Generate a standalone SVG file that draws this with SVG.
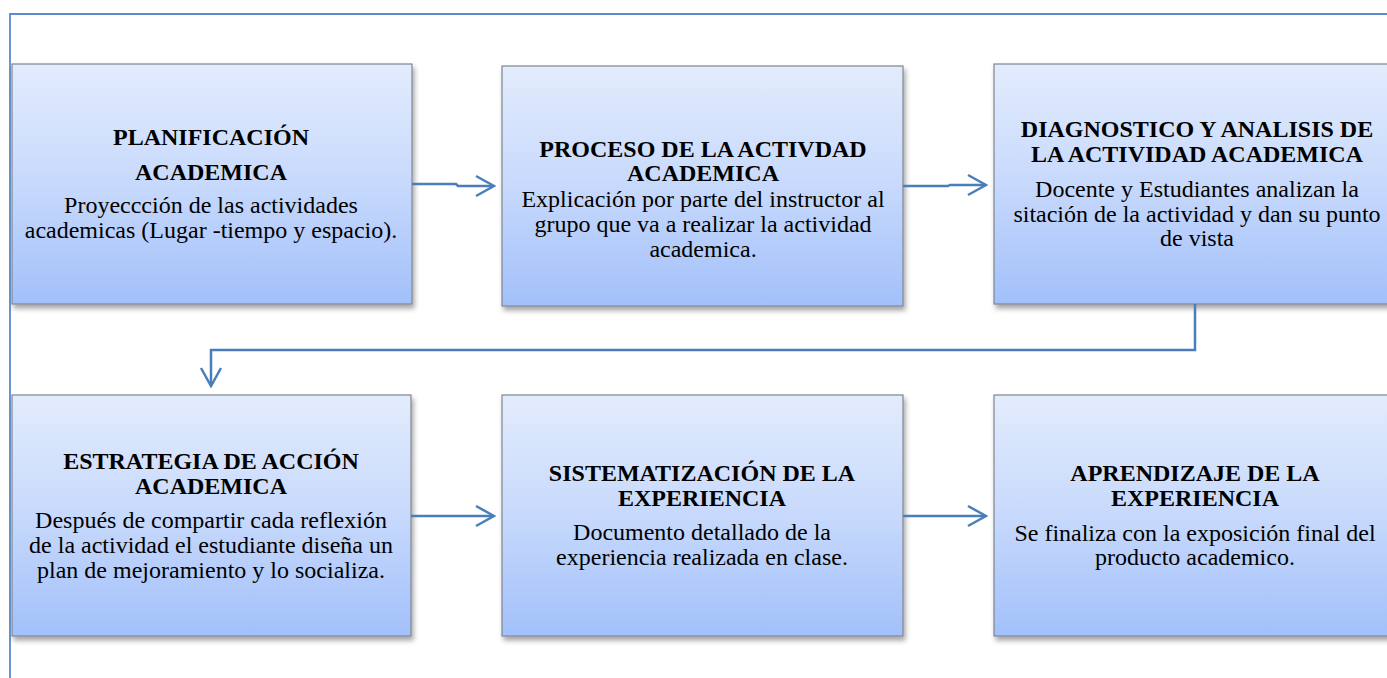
<svg xmlns="http://www.w3.org/2000/svg" width="1387" height="678" viewBox="0 0 1387 678">
<defs>
<linearGradient id="g" x1="0" y1="0" x2="0" y2="1">
<stop offset="0" stop-color="#e3ecfd"/>
<stop offset="0.5" stop-color="#c7d9fc"/>
<stop offset="1" stop-color="#a2c0fa"/>
</linearGradient>
<filter id="sh" x="-5%" y="-5%" width="115%" height="120%">
<feDropShadow dx="2" dy="4" stdDeviation="2.5" flood-color="#000" flood-opacity="0.35"/>
</filter>
<marker id="ar" markerUnits="userSpaceOnUse" viewBox="-20 -12 22 24" refX="0" refY="0" markerWidth="22" markerHeight="24" orient="auto">
<path d="M-18,-10 L0,0 L-18,10" fill="none" stroke="#4a7ebb" stroke-width="2.5"/>
</marker>
</defs>
<style>
.box{fill:url(#g);stroke:#7f8591;stroke-width:1.2;filter:url(#sh)}
.t{font-family:"Liberation Serif","Times New Roman",serif;font-size:24px;font-weight:bold;fill:#000;text-anchor:middle}
.b{font-family:"Liberation Serif","Times New Roman",serif;font-size:24px;fill:#000;text-anchor:middle}
.c{fill:none;stroke:#4a7ebb;stroke-width:2.5;marker-end:url(#ar)}
.frame{fill:none;stroke:#5a8ccd;stroke-width:1.8}
</style>
<rect width="1387" height="678" fill="#fff"/>
<path class="frame" d="M10,678 V14 H1387"/>
<g id="n1">
<rect class="box" x="12" y="64" width="400" height="240"/>
<text class="t" x="211" y="145">PLANIFICACIÓN</text>
<text class="t" x="211" y="180">ACADEMICA</text>
<text class="b" x="211" y="213">Proyeccción de las actividades</text>
<text class="b" x="211" y="238">academicas (Lugar -tiempo y espacio).</text>
</g>
<g id="n2">
<rect class="box" x="502" y="66" width="401" height="240"/>
<text class="t" x="703" y="157">PROCESO DE LA ACTIVDAD</text>
<text class="t" x="703" y="181">ACADEMICA</text>
<text class="b" x="703" y="207">Explicación por parte del instructor al</text>
<text class="b" x="703" y="232">grupo que va a realizar la actividad</text>
<text class="b" x="703" y="257">academica.</text>
</g>
<g id="n3">
<rect class="box" x="994" y="64" width="402" height="240"/>
<text class="t" x="1197" y="137">DIAGNOSTICO Y ANALISIS DE</text>
<text class="t" x="1197" y="162">LA ACTIVIDAD ACADEMICA</text>
<text class="b" x="1197" y="197">Docente y Estudiantes analizan la</text>
<text class="b" x="1197" y="222">sitación de la actividad y dan su punto</text>
<text class="b" x="1197" y="246">de vista</text>
</g>
<g id="n4">
<rect class="box" x="12" y="395" width="399" height="241"/>
<text class="t" x="211" y="469">ESTRATEGIA DE ACCIÓN</text>
<text class="t" x="211" y="494">ACADEMICA</text>
<text class="b" x="211" y="528">Después de compartir cada reflexión</text>
<text class="b" x="211" y="553">de la actividad el estudiante diseña un</text>
<text class="b" x="211" y="578">plan de mejoramiento y lo socializa.</text>
</g>
<g id="n5">
<rect class="box" x="502" y="395" width="401" height="241"/>
<text class="t" x="702" y="481">SISTEMATIZACIÓN DE LA</text>
<text class="t" x="702" y="506">EXPERIENCIA</text>
<text class="b" x="702" y="540">Documento detallado de la</text>
<text class="b" x="702" y="565">experiencia realizada en clase.</text>
</g>
<g id="n6">
<rect class="box" x="994" y="395" width="402" height="241"/>
<text class="t" x="1195" y="481">APRENDIZAJE DE LA</text>
<text class="t" x="1195" y="506">EXPERIENCIA</text>
<text class="b" x="1195" y="541">Se finaliza con la exposición final del</text>
<text class="b" x="1195" y="565">producto academico.</text>
</g>
<g id="connectors">
<path class="c" d="M412,184 H456 L458,186 H494"/>
<path class="c" d="M903,186 H948 L950,185 H986"/>
<path class="c" d="M1195,304 V350 H211 V386"/>
<path class="c" d="M411,516 H494"/>
<path class="c" d="M903,516 H986"/>
</g>
</svg>
